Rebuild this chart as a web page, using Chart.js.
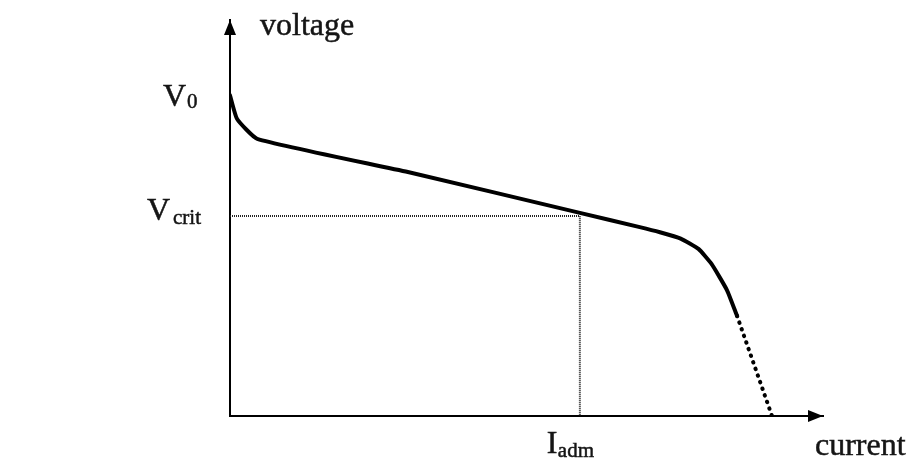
<!DOCTYPE html>
<html>
<head>
<meta charset="utf-8">
<script src="https://cdn.jsdelivr.net/npm/chart.js@4"></script>
<style>
  html, body { margin: 0; padding: 0; background: #fff; }
  #wrap { width: 911px; height: 463px; }
</style>
</head>
<body>
<div id="wrap"><canvas id="myChart" width="911" height="463"></canvas></div>
<script>
// curve (current in %, voltage in %)
const currentSolid = [0, 1.2, 4.6, 30, 59, 69.1, 72.5, 76.0, 79.0, 81.2, 83.8, 85.5];
const voltageSolid = [81, 75, 70, 61.6, 51.3, 47.7, 46.4, 44.8, 42.2, 38.4, 31.8, 25.3];
const currentTail = [85.5, 91.4];
const voltageTail = [25.3, 0];

const V0 = 81;
const Vcrit = 50.5;
const Iadm = 59;

const toPoints = (xs, ys) => xs.map((x, i) => ({ x: x, y: ys[i] }));

const serif = '"Liberation Serif", "DejaVu Serif", serif';

function label(ctx, text, x, y) {
  ctx.fillText(text, x, y);
  ctx.strokeText(text, x, y);
}

const axisDecor = {
  id: 'axisDecor',
  afterDraw(chart) {
    const ctx = chart.ctx;
    const xs = chart.scales.x, ys = chart.scales.y;
    const left = xs.getPixelForValue(0), bottom = ys.getPixelForValue(0);
    const right = xs.getPixelForValue(100), top = ys.getPixelForValue(100);
    ctx.save();
    ctx.fillStyle = '#000';
    // up arrow
    ctx.beginPath();
    ctx.moveTo(left, top);
    ctx.lineTo(left - 6, top + 15);
    ctx.lineTo(left + 6, top + 15);
    ctx.closePath();
    ctx.fill();
    // right arrow
    ctx.beginPath();
    ctx.moveTo(right, bottom);
    ctx.lineTo(right - 15, bottom - 6);
    ctx.lineTo(right - 15, bottom + 6);
    ctx.closePath();
    ctx.fill();

    ctx.fillStyle = '#151515';
    ctx.strokeStyle = '#151515';
    ctx.lineWidth = 0.5;
    ctx.textBaseline = 'alphabetic';
    ctx.textAlign = 'left';
    const big = '32px ' + serif, small = '21px ' + serif;

    ctx.font = big;
    label(ctx, 'voltage', left + 30, top + 15);
    label(ctx, 'current', right - 8, bottom + 39);

    // V0
    let py = ys.getPixelForValue(V0);
    ctx.font = big;
    label(ctx, 'V', left - 67, py + 11);
    ctx.font = small;
    label(ctx, '0', left - 43, py + 13);

    // Vcrit
    py = ys.getPixelForValue(Vcrit);
    ctx.font = big;
    label(ctx, 'V', left - 83, py + 4);
    ctx.font = small;
    label(ctx, 'crit', left - 57, py + 8);

    // Iadm
    const px = xs.getPixelForValue(Iadm);
    ctx.font = big;
    label(ctx, 'I', px - 33, bottom + 37);
    ctx.font = small;
    label(ctx, 'adm', px - 22, bottom + 41);
    ctx.restore();
  }
};

const data = {
  datasets: [
    {
      data: toPoints(currentSolid, voltageSolid),
      borderColor: '#000',
      borderWidth: 4,
      borderJoinStyle: 'round',
      borderCapStyle: 'round',
      pointRadius: 0,
      showLine: true,
      tension: 0.15
    },
    {
      data: toPoints(currentTail, voltageTail),
      borderColor: '#000',
      borderWidth: 4,
      borderCapStyle: 'round',
      borderDash: [0.5, 6.5],
      pointRadius: 0,
      showLine: true
    },
    {
      data: [{ x: 0, y: Vcrit }, { x: Iadm, y: Vcrit }, { x: Iadm, y: 0 }],
      borderColor: '#222',
      borderWidth: 2,
      borderDash: [1, 1],
      pointRadius: 0,
      showLine: true
    }
  ]
};

const config = {
  type: 'scatter',
  data: data,
  options: {
    responsive: false,
    animation: false,
    layout: { padding: { left: 230, right: 88, top: 20, bottom: 47 } },
    plugins: { legend: { display: false }, tooltip: { enabled: false } },
    scales: {
      x: {
        min: 0, max: 100,
        ticks: { display: false },
        grid: { display: false },
        border: { display: true, color: '#000', width: 2 },
        afterFit(scale) { scale.height = 0; }
      },
      y: {
        min: 0, max: 100,
        ticks: { display: false },
        grid: { display: false },
        border: { display: true, color: '#000', width: 2 },
        afterFit(scale) { scale.width = 0; }
      }
    }
  },
  plugins: [axisDecor]
};

const myChart = new Chart(document.getElementById('myChart'), config);
</script>
</body>
</html>
